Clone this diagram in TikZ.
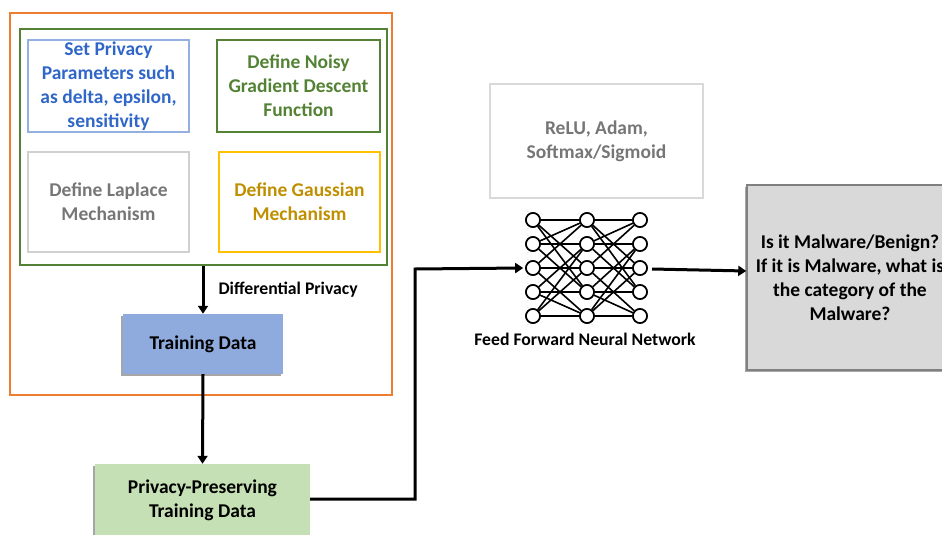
\documentclass[tikz,border=0pt]{standalone}
\usepackage{fontspec}
\setmainfont{Carlito}
\usetikzlibrary{arrows.meta,shadows}

\definecolor{frameorange}{HTML}{ED7D31}
\definecolor{darkgreen}{HTML}{548235}
\definecolor{paramblue}{HTML}{2F66C8}
\definecolor{paramframe}{HTML}{94B0E0}
\definecolor{lightgrayframe}{HTML}{D0D0D0}
\definecolor{midgray}{HTML}{767676}
\definecolor{goldtext}{HTML}{BF8F00}
\definecolor{goldframe}{HTML}{FFC000}
\definecolor{trainblue}{HTML}{8FAADC}
\definecolor{ppgreen}{HTML}{C5E0B4}
\definecolor{outfill}{HTML}{D9D9D9}
\definecolor{outframe}{HTML}{808080}

\tikzset{
  lbl/.style={font=\bfseries\fontsize{19.5}{24}\selectfont, align=center},
  small lbl/.style={font=\bfseries\fontsize{17.7}{21}\selectfont},
  box/.style={lbl, draw, line width=1.5pt, inner sep=0pt},
  shadowed/.style={drop shadow={shadow xshift=-2pt, shadow yshift=-2pt, opacity=0.35, fill=black}},
  flow/.style={line width=3pt, -{Triangle[length=8pt,width=10pt]}},
  neuron/.style={circle, draw, fill=white, line width=1.6pt, minimum size=14pt, inner sep=0pt},
  synapse/.style={line width=1.6pt}
}

\begin{document}
\begin{tikzpicture}[x=1pt, y=-1pt]
\useasboundingbox (0,0) rectangle (942,535);
\clip (0,0) rectangle (942,535);

% outer frame of the privacy stage
\node[draw=frameorange, line width=1.5pt, minimum width=382pt, minimum height=382pt, inner sep=0pt] (stage) at (201,204) {};
% frame holding the four setup steps
\node[draw=darkgreen, line width=1.5pt, minimum width=367pt, minimum height=236pt, inner sep=0pt] (setup) at (203.5,147) {};

\node[box, draw=paramframe, text=paramblue, minimum width=161pt, minimum height=92pt] (params) at (108.5,86)
  {Set Privacy\\Parameters such\\as delta, epsilon,\\sensitivity};
\node[box, draw=darkgreen, text=darkgreen, minimum width=163pt, minimum height=92pt] (noisy) at (298.5,86)
  {Define Noisy\\Gradient Descent\\Function};
\node[box, draw=lightgrayframe, text=midgray, minimum width=161pt, minimum height=100pt] (laplace) at (108.5,202)
  {Define Laplace\\Mechanism};
\node[box, draw=goldframe, text=goldtext, minimum width=161pt, minimum height=100pt] (gauss) at (299.5,202)
  {Define Gaussian\\Mechanism};

\node[lbl, fill=trainblue, shadowed, minimum width=160pt, minimum height=60pt, inner sep=0pt] (train) at (203,344) {Training Data};
\node[lbl, fill=ppgreen, shadowed, minimum width=215pt, minimum height=72pt, inner sep=0pt] (pp) at (202.5,500)
  {Privacy-Preserving\\Training Data};

\node[small lbl, anchor=west] (dplabel) at (215,290) {Differential Privacy};

\draw[flow] (train.north |- setup.south) -- (train.north);
\draw[flow] (train.south) -- (pp.north);

% activation / optimiser box
\node[box, draw=outfill, text=midgray, minimum width=213pt, minimum height=114pt] (relu) at (596.5,141)
  {ReLU, Adam,\\Softmax/Sigmoid};

% feed forward network icon: neurons, then synapses, then neurons again on top
\foreach \c/\x in {a/533, b/587, c/640} {
  \foreach \r/\y in {1/220, 2/244, 3/268, 4/292, 5/316} {
    \node[neuron] (\c\r) at (\x,\y) {};
  }
}
\foreach \s/\t in {a/b, b/c} {
  \foreach \i/\j in {1/1,2/2,3/3,4/4,5/5,1/3,3/1,2/4,4/2,3/5,5/3,2/1,4/5,1/4,5/2} {
    \draw[synapse] (\s\i) -- (\t\j);
  }
}
\foreach \c/\x in {a/533, b/587, c/640} {
  \foreach \r/\y in {1/220, 2/244, 3/268, 4/292, 5/316} {
    \node[neuron] at (\x,\y) {};
  }
}
\node[small lbl] (ffnn) at (585,339) {Feed Forward Neural Network};

% decision box
\node[box, draw=outframe, fill=outfill, shadowed, text=black, minimum width=206pt, minimum height=185pt] (out) at (850,277.5)
  {Is it Malware/Benign?\\If it is Malware, what is\\the category of the\\Malware?};

\coordinate (turn) at (415,269);
\draw[flow] (pp.east |- 0,499) -| (turn) -- ([xshift=-2pt]a3.west);
\coordinate (nnout) at (652,269);
\draw[flow] (nnout) -- (out.west |- 0,271);
\end{tikzpicture}
\end{document}
